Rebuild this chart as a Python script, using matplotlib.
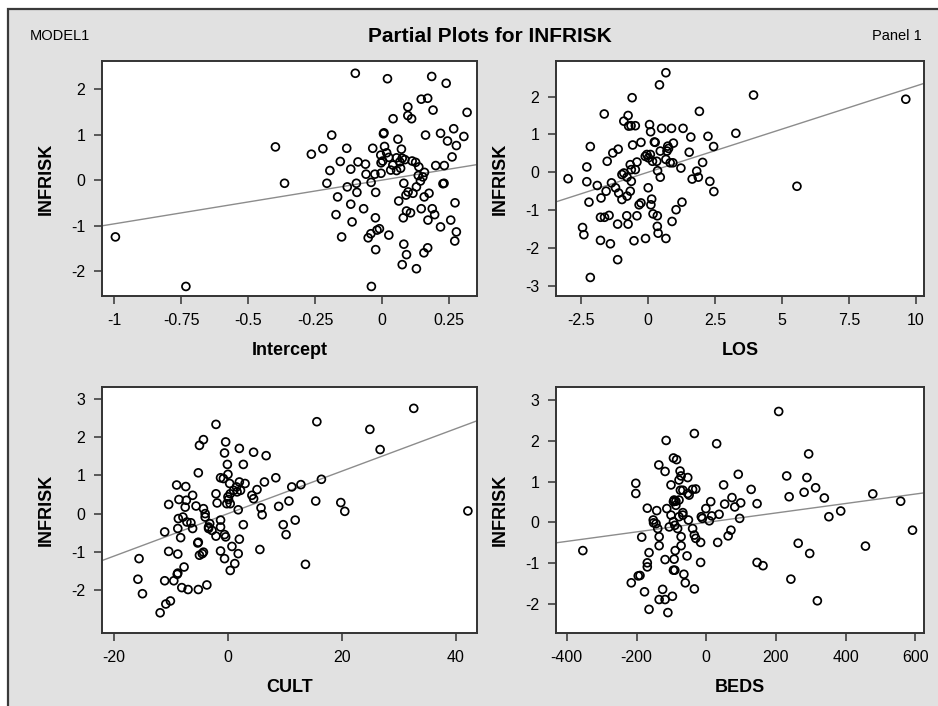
import numpy as np
import matplotlib
matplotlib.use('Agg')
import matplotlib.pyplot as plt
from matplotlib.patches import Rectangle

plt.rcParams['font.family'] = ['Liberation Sans Narrow', 'Liberation Sans', 'DejaVu Sans']

# partial residuals of INFRISK against each regressor
intercept_x = [-0.995, -0.732, -0.398, -0.364, -0.264, -0.221, -0.188, -0.195, -0.206, -0.156,
               -0.132, -0.117, -0.090, -0.062, -0.060, -0.027, -0.035, -0.100, 0.020, 0.185,
               0.239, 0.317, 0.096, 0.146, 0.170, 0.190, 0.041, 0.096, 0.110, 0.007,
               0.005, 0.059, 0.009, 0.072, 0.162, 0.218, 0.267, 0.305, 0.244, 0.277,
               0.261, 0.200, 0.232, -0.005, 0.002, 0.025, -0.004, 0.054, 0.066, 0.075,
               0.032, 0.054, 0.069, -0.004, 0.112, 0.125, 0.137, 0.158, 0.152, 0.143,
               0.081, 0.128, 0.097, 0.115, 0.089, 0.157, 0.175, 0.231, 0.227, 0.272,
               0.062, 0.091, 0.106, 0.079, 0.146, 0.187, 0.196, 0.171, 0.218, 0.256,
               0.277, 0.271, 0.081, 0.091, 0.075, 0.128, 0.156, 0.170, 0.025, -0.040,
               -0.024, -0.052, -0.042, -0.019, -0.010, -0.025, -0.069, -0.112, -0.151, -0.172,
               -0.166, -0.117, -0.130, -0.096, -0.094, -0.041, -0.024, 0.017, 0.040, 0.085,
               0.135]
intercept_y = [-1.25, -2.34, 0.73, -0.07, 0.57, 0.69, 0.99, 0.21, -0.07, 0.41,
               0.70, 0.24, 0.40, 0.35, 0.13, 0.13, 0.70, 2.35, 2.23, 2.28,
               2.13, 1.49, 1.61, 1.78, 1.80, 1.54, 1.35, 1.42, 1.35, 1.04,
               1.02, 0.90, 0.74, 0.68, 0.99, 1.03, 1.13, 0.96, 0.86, 0.76,
               0.51, 0.32, 0.32, 0.55, 0.42, 0.50, 0.38, 0.49, 0.40, 0.48,
               0.22, 0.21, 0.26, 0.15, 0.42, 0.39, 0.29, 0.17, 0.07, -0.02,
               -0.07, -0.15, -0.26, -0.29, -0.33, -0.37, -0.29, -0.07, -0.08, -0.50,
               -0.46, -0.68, -0.72, -0.83, -0.63, -0.63, -0.76, -0.88, -1.03, -0.88,
               -1.14, -1.34, -1.41, -1.64, -1.86, -1.95, -1.60, -1.49, -1.21, -2.34,
               -1.53, -1.27, -1.18, -1.10, -1.07, -0.83, -0.63, -0.92, -1.25, -0.76,
               -0.37, -0.53, -0.15, -0.07, -0.27, -0.05, -0.27, 0.60, 0.33, 0.45,
               0.10]

los_x = [-2.98, -2.15, -2.44, -2.39, -2.20, -2.28, -2.28, -2.15, -1.89, -1.75,
         -1.56, -1.77, -1.62, -1.45, -1.77, -1.40, -1.13, -1.13, -0.74, -0.79,
         -0.41, -0.52, -0.09, 0.38, 0.67, 0.35, 0.35, 0.19, 0.11, 0.14,
         -0.33, -0.26, 0.01, 0.90, 1.05, 1.27, -1.36, -1.21, -1.09, -0.97,
         -0.78, -0.66, -0.62, -0.97, -0.90, -0.78, -0.62, -0.47, -0.41, -0.66,
         -1.52, -1.31, -1.11, -0.57, -0.26, -0.90, -0.74, -0.72, -0.63, -0.47,
         -1.63, -0.59, 0.43, 0.67, 0.06, 0.10, 0.51, 0.88, 1.31, 1.60,
         1.92, 2.24, 2.45, 3.28, 3.94, 5.56, 9.62, 0.27, 0.74, 0.95,
         0.71, 0.46, -0.04, 0.02, 0.09, -0.10, 0.33, 0.83, 0.93, 0.67,
         0.36, 0.46, 1.23, 1.54, 2.04, 1.82, 1.65, 1.88, 2.31, 2.46,
         0.24, 0.77, 0.17]
los_y = [-0.17, -2.78, -1.46, -1.65, -0.79, -0.25, 0.14, 0.68, -0.35, -0.68,
         -0.50, -1.19, -1.19, -1.14, -1.80, -1.89, -2.31, -1.37, -1.37, -1.15,
         -1.15, -1.81, -1.75, -1.61, -1.75, -1.43, -1.15, -1.10, -0.86, -0.71,
         -0.86, -0.81, -0.41, -1.30, -0.99, -0.79, -0.28, -0.41, -0.55, -0.72,
         -0.63, -0.50, -0.24, -0.06, -0.02, -0.13, 0.07, 0.07, 0.27, 0.20,
         0.29, 0.51, 0.61, 0.72, 0.79, 1.35, 1.50, 1.22, 1.23, 1.23,
         1.54, 1.97, 2.31, 2.63, 1.26, 1.07, 1.16, 1.16, 1.16, 0.93,
         1.61, 0.95, 0.68, 1.03, 2.04, -0.37, 1.93, 0.79, 0.69, 0.77,
         0.56, 0.56, 0.47, 0.38, 0.47, 0.42, 0.29, 0.25, 0.25, 0.34,
         0.04, -0.13, 0.11, 0.53, 0.26, 0.03, -0.18, -0.13, -0.24, -0.51,
         0.80, 0.63, 0.29]

cult_x = [-15.6, -15.8, -15.0, -11.9, -10.9, -10.1, -11.1, -9.5, -8.9, -8.8,
          -7.7, -8.1, -7.0, -5.2, -3.7, -10.4, -8.8, -11.1, -8.8, -8.3,
          -8.7, -7.9, -7.2, -6.5, -6.2, -10.4, -8.6, -7.5, -7.3, -6.2,
          -9.0, -7.4, -5.6, -5.2, -5.0, -4.3, -4.3, -4.0, -4.0, -3.4,
          -2.8, -5.2, -5.0, -4.3, -2.1, -0.4, -0.6, 2.0, 4.5, 6.7,
          -0.1, 2.7, -1.3, 0.0, -0.8, 0.3, 2.0, 3.0, 6.4, 8.4,
          5.1, 4.2, 4.5, -2.1, -1.9, 0.0, 0.4, 1.0, 1.6, 2.2,
          -0.2, 0.4, 1.8, -1.3, -1.3, -2.1, -0.6, -0.4, 2.0, 2.7,
          0.7, -1.3, -0.6, 1.8, 1.2, 0.4, 5.6, 5.8, 6.0, 8.9,
          9.7, 10.2, 11.8, 10.7, 11.2, 12.8, 15.4, 16.4, 15.6, 13.6,
          19.8, 20.5, 24.9, 26.7, 32.6, 42.1, -5.3, -4.5, -3.4, 1.5,
          0.1, -3.2]
cult_y = [-1.18, -1.72, -2.10, -2.60, -2.37, -2.29, -1.76, -1.76, -1.59, -1.56,
          -1.40, -1.94, -1.99, -1.99, -1.87, -0.99, -1.06, -0.48, -0.39, -0.63,
          -0.13, -0.09, -0.22, -0.24, -0.39, 0.24, 0.37, 0.17, 0.35, 0.48,
          0.75, 0.71, 0.20, -0.75, -1.09, -1.01, 0.13, 0.00, -0.09, -0.35,
          -0.44, 1.07, 1.79, 1.94, 2.34, 1.88, 1.59, 1.71, 1.61, 1.52,
          1.29, 1.29, 0.94, 1.03, 0.92, 0.79, 0.83, 0.79, 0.83, 0.94,
          0.63, 0.48, 0.39, 0.52, 0.28, 0.44, 0.52, 0.61, 0.57, 0.61,
          0.26, 0.26, 0.10, -0.17, -0.35, -0.59, -0.55, -0.61, -0.67, -0.29,
          -0.86, -0.98, -1.18, -1.05, -1.31, -1.49, -0.94, 0.15, -0.03, 0.19,
          -0.29, -0.55, -0.17, 0.33, 0.70, 0.76, 0.33, 0.90, 2.41, -1.33,
          0.29, 0.06, 2.21, 1.68, 2.76, 0.07, -0.77, -1.05, -0.39, 0.70,
          0.37, -0.26]

beds_x = [-354, -215, -190, -195, -177, -164, -169, -169, -164, -185,
          -202, -202, -169, -152, -151, -142, -139, -135, -135, -125,
          -135, -118, -97, -110, -118, -92, -89, -94, -90, -64,
          -60, -34, -55, -72, -72, -106, -90, -78, -101, -113,
          -94, -87, -78, -92, -101, -115, -136, -118, -94, -85,
          -75, -72, -53, -74, -67, -49, -39, -30, -34, 30,
          -53, -67, -51, -39, -34, -30, -16, -16, -14, -1,
          13, 9, 16, 37, 33, 63, 71, 53, 74, 82,
          99, 96, 50, 92, 129, 146, 146, 163, 231, 238,
          208, 281, 289, 294, 314, 339, 352, 386, 264, 297,
          243, 319, 457, 478, 558, 592, -87, -67, -94, -82,
          -144, -78, -11]
beds_y = [-0.69, -1.48, -1.30, -1.31, -1.70, -2.13, -1.09, -0.99, -0.74, -0.36,
          0.71, 0.96, 0.35, 0.06, -0.01, 0.29, -0.15, -0.35, -0.57, -1.64,
          -1.89, -1.89, -1.81, -2.21, -0.91, -0.90, -0.69, -1.17, -1.17, -1.27,
          -1.48, -1.63, -0.82, -0.57, -0.35, -0.11, -0.07, 0.14, 0.18, 0.34,
          0.51, 0.42, 0.55, 0.55, 0.92, 2.01, 1.41, 1.25, 1.58, 1.54,
          1.26, 1.14, 1.10, 0.79, 0.79, 0.67, 0.81, 0.82, 2.18, 1.93,
          0.71, 0.18, 0.06, -0.15, -0.31, -0.39, -0.49, -0.98, 0.14, 0.34,
          0.51, 0.04, 0.16, 0.20, -0.49, -0.33, -0.19, 0.45, 0.61, 0.38,
          0.48, 0.10, 0.92, 1.18, 0.81, 0.46, -0.98, -1.06, 1.14, 0.63,
          2.72, 0.74, 1.10, 1.68, 0.85, 0.60, 0.14, 0.28, -0.51, -0.76,
          -1.39, -1.92, -0.58, 0.70, 0.52, -0.19, 0.52, 0.24, 0.02, -0.15,
          -0.03, 1.04, 0.10]

# fitted partial slopes
slopes = [0.963, 0.228, 0.0557, 0.00116]

names = ['Intercept', 'LOS', 'CULT', 'BEDS']
xs = [intercept_x, los_x, cult_x, beds_x]
ys = [intercept_y, los_y, cult_y, beds_y]
xlims = [(-1.045, 0.354), (-3.43, 10.3), (-22.1, 43.7), (-431, 625)]
ylims = [(-2.55, 2.62), (-3.27, 2.94), (-3.13, 3.32), (-2.71, 3.32)]
xticks = [[-1, -0.75, -0.5, -0.25, 0, 0.25], [-2.5, 0, 2.5, 5, 7.5, 10],
          [-20, 0, 20, 40], [-400, -200, 0, 200, 400, 600]]
xticklabels = [['-1', '-0.75', '-0.5', '-0.25', '0', '0.25'],
               ['-2.5', '0', '2.5', '5', '7.5', '10'],
               ['-20', '0', '20', '40'],
               ['-400', '-200', '0', '200', '400', '600']]
yticks = [[-2, -1, 0, 1, 2], [-3, -2, -1, 0, 1, 2],
          [-2, -1, 0, 1, 2, 3], [-2, -1, 0, 1, 2, 3]]

W, H = 938, 706
fig = plt.figure(figsize=(W / 100, H / 100), dpi=100, facecolor='white')

# gray page with a dark border on the top and left
fig.patches.append(Rectangle((8 / W, -0.02), 1.0, 1.02 - 9 / H, transform=fig.transFigure,
                             facecolor='#e1e1e1', edgecolor='#3a3a3a', linewidth=1.6,
                             zorder=-10))

fig.text(30 / W, 1 - 36 / H, 'MODEL1', fontsize=10.5, va='center', ha='left')
fig.text(490 / W, 1 - 36 / H, 'Partial Plots for INFRISK', fontsize=15,
         fontweight='bold', va='center', ha='center')
fig.text(922 / W, 1 - 36 / H, 'Panel 1', fontsize=10.5, va='center', ha='right')

boxes = [(102, 61, 477, 296), (556, 61, 924, 296),
         (102, 387, 477, 633), (556, 387, 924, 633)]

for i in range(4):
    l, t, r, b = boxes[i]
    ax = fig.add_axes([l / W, 1 - b / H, (r - l) / W, (b - t) / H])
    ax.set_facecolor('white')
    ax.set_xlim(*xlims[i])
    ax.set_ylim(*ylims[i])

    xx = np.array(xlims[i])
    ax.plot(xx, slopes[i] * xx, color='#8c8c8c', linewidth=1.0, zorder=1)
    ax.scatter(xs[i], ys[i], s=32, facecolors='none', edgecolors='black',
               linewidths=1.25, zorder=2, clip_on=False)

    ax.set_xticks(xticks[i])
    ax.set_xticklabels(xticklabels[i])
    ax.set_yticks(yticks[i])
    ax.set_yticklabels([str(v) for v in yticks[i]])
    ax.tick_params(direction='out', length=6, width=1.1, color='#333333',
                   labelsize=11.5, pad=6)
    for sp in ax.spines.values():
        sp.set_linewidth(1.4)
        sp.set_color('#333333')

    ax.set_xlabel(names[i], fontsize=13, fontweight='bold', labelpad=10)
    ax.set_ylabel('INFRISK', fontsize=13, fontweight='bold', labelpad=12)

plt.savefig('out.png', dpi=100, facecolor=fig.get_facecolor())
